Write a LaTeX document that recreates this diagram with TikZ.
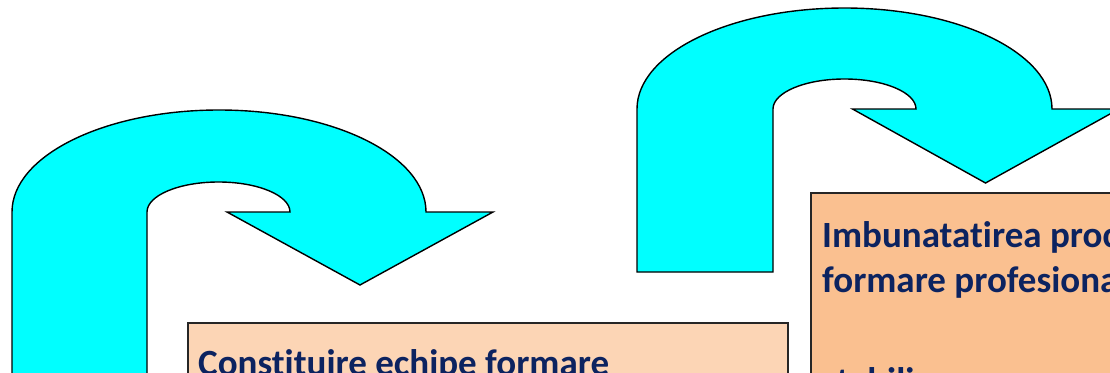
\documentclass[tikz,border=0pt]{standalone}
\usepackage{fontspec}
\setmainfont{Carlito}[Ligatures={NoCommon}]
\definecolor{navy}{RGB}{12,35,96}
\definecolor{arrowcyan}{RGB}{0,255,255}
\definecolor{peachlight}{RGB}{252,213,181}
\definecolor{peachdark}{RGB}{250,192,144}
\tikzset{
  uturn/.style={fill=arrowcyan,draw=black,line width=1.4pt,line join=miter},
  boxlight/.style={fill=peachlight,draw=black!85,line width=1.7pt},
  boxdark/.style={fill=peachdark,draw=black!85,line width=1.7pt},
  label/.style={anchor=base west,inner sep=0pt,text=navy,font=\fontsize{37}{45}\selectfont\bfseries}
}
\begin{document}
\begin{tikzpicture}[x=1pt,y=1pt]
\useasboundingbox (0,0) rectangle (1110,-372);
\clip (0,0) rectangle (1110,-372);
% left U-turn arrow
\draw[uturn] (12,-400) -- (12,-212)
  arc[start angle=180,end angle=0,x radius=207pt,y radius=102pt]
  -- (493,-212) -- (360,-285) -- (227,-212) -- (290,-212)
  arc[start angle=0,end angle=180,x radius=71.5pt,y radius=30pt]
  -- (147,-400) -- cycle;
% right U-turn arrow
\draw[uturn] (637,-272) -- (637,-109)
  arc[start angle=180,end angle=0,x radius=207.5pt,y radius=101pt]
  -- (1119,-109) -- (985.5,-183) -- (852.5,-109) -- (916,-109)
  arc[start angle=0,end angle=180,x radius=71.5pt,y radius=30pt]
  -- (773,-272) -- cycle;
% boxes
\draw[boxlight] (188,-323) rectangle (788,-420);
\draw[boxdark] (811,-193) rectangle (1140,-420);
% texts
\node[label] (t1) at (198,-375) {Constituire echipe formare};
\node[label] (t2) at (822,-247) {Imbunatatirea procesului de};
\node[label] (t3) at (822,-292) {formare profesionala};
\node[label] (t4) at (822,-393) {stabilirea necesarului de formare};
\end{tikzpicture}
\end{document}
